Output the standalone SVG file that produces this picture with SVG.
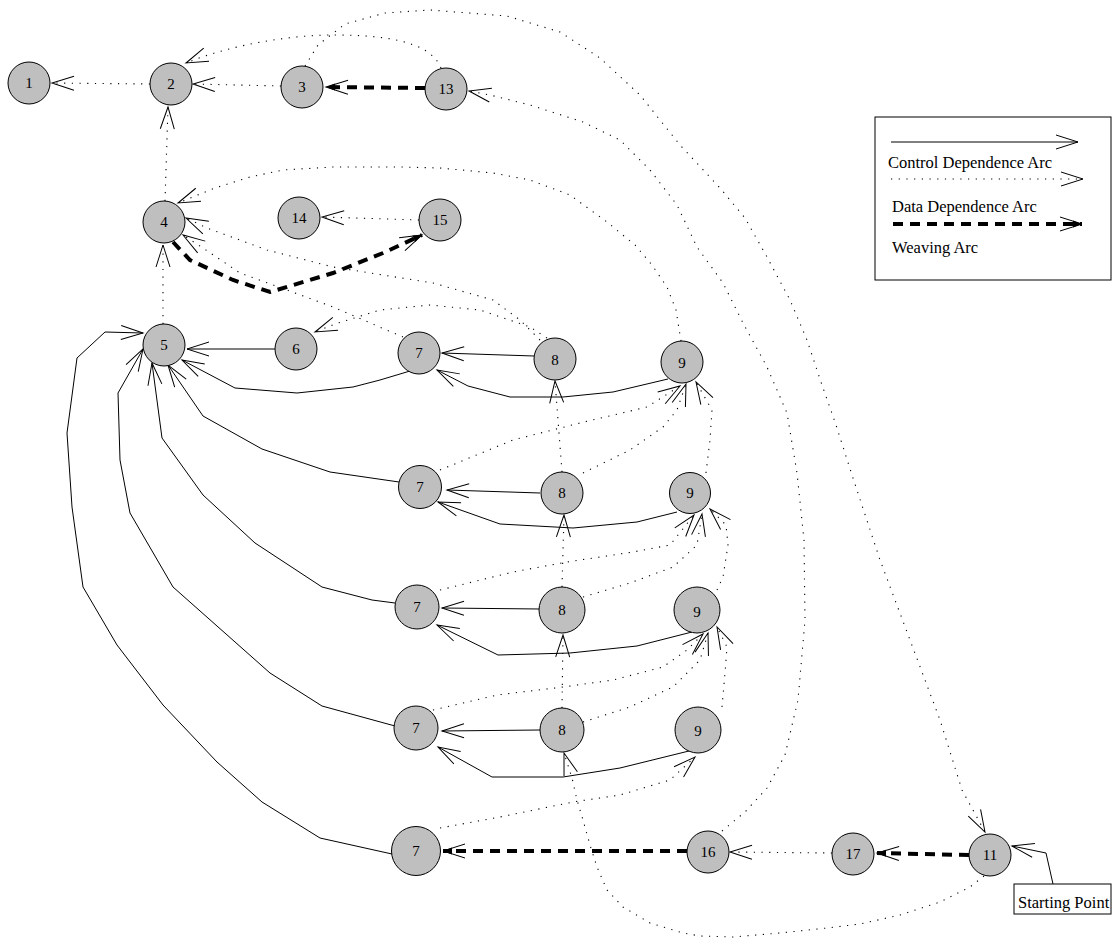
<svg xmlns="http://www.w3.org/2000/svg" width="1113" height="938" viewBox="0 0 1113 938">
<style>
.nd circle{fill:#bfbfbf;stroke:#000;stroke-width:1}
.nd text,.t{font-family:"Liberation Serif","Times New Roman",serif;fill:#000}
.nd text{font-size:15px;text-anchor:middle}
.t{font-size:16.5px}
.cd{fill:none;stroke:#000;stroke-width:1;marker-end:url(#a)}
.dd{fill:none;stroke:#000;stroke-width:1.1;stroke-dasharray:1.2 6.5;marker-end:url(#a)}
.wv{fill:none;stroke:#000;stroke-width:4;stroke-dasharray:10 7;marker-end:url(#w)}
</style>
<defs>
<marker id="a" markerUnits="userSpaceOnUse" markerWidth="30" markerHeight="20" viewBox="-25 -10 30 20" refX="0" refY="0" orient="auto" overflow="visible">
<path d="M-22,-7 L0,0 L-22,7" fill="none" stroke="#000" stroke-width="1"/>
</marker>
<marker id="w" markerUnits="userSpaceOnUse" markerWidth="30" markerHeight="20" viewBox="-25 -10 30 20" refX="0" refY="0" orient="auto" overflow="visible">
<path d="M-22,-7 L0,0 L-22,7" fill="none" stroke="#000" stroke-width="1"/>
<path d="M-9,-3.5 L0,0 L-9,3.5Z" fill="#000"/>
</marker>
</defs>
<rect width="1113" height="938" fill="#fff"/>

<g id="connectors">
<!-- data dependence (dotted) -->
<polyline class="dd" points="150,84 52,83"/>
<polyline class="dd" points="281,86 193,84"/>
<path class="dd" d="M441,68 C430,40 380,35 333,35 C290,35 230,45 186,63"/>
<polyline class="dd" points="305,66 318,45 345,24 385,13 430,10 507,16 560,32 600,58 640,95 680,145 720,188 745,218 767,257 790,300 807,340 822,385 836,425 852,475 880,560 910,640 940,720 962,790 985,832"/>
<polyline class="dd" points="722,831 745,812 767,788 785,755 798,700 805,620 804,540 797,473 787,413 767,367 743,323 723,283 697,247 677,205 650,170 620,140 583,122 530,105 490,95 469,91"/>
<polyline class="dd" points="681,341 676,310 667,287 652,265 635,245 607,222 570,195 530,180 493,173 440,168 400,167 333,167 283,170 250,177 215,188 178,203"/>
<polyline class="dd" points="540,340 520,320 493,300 433,283 333,267 267,250 207,228 186,218"/>
<polyline class="dd" points="403,337 333,307 287,290 240,273 203,248 183,235"/>
<polyline class="dd" points="547,338 530,327 480,310 430,305 380,310 335,324 315,332"/>
<polyline class="dd" points="163,324 163,245"/>
<polyline class="dd" points="165,201 168,107"/>
<polyline class="dd" points="419,220 322,217"/>
<polyline class="dd" points="562,472 555,381"/>
<polyline class="dd" points="562,587 564,515"/>
<polyline class="dd" points="562,708 563,635"/>
<polyline class="dd" points="984,876 970,887 940,902 900,915 860,924 827,928 780,933 733,937 700,936 683,933 650,923 623,907 607,890 597,867 590,845 583,820 577,800 572,778 564,753"/>
<polyline class="dd" points="440,470 513,440 580,423 647,407 680,386"/>
<polyline class="dd" points="583,473 630,450 663,427 677,410 686,384"/>
<polyline class="dd" points="706,473 710,440 712,410 696,382"/>
<polyline class="dd" points="440,590 513,572 567,562 633,552 670,545 694,515"/>
<polyline class="dd" points="583,597 630,583 673,567 697,545 702,514"/>
<polyline class="dd" points="717,590 723,577 728,545 726,525 710,509"/>
<polyline class="dd" points="433,710 497,695 563,687 613,680 663,667 687,650 703,634"/>
<polyline class="dd" points="583,722 630,707 673,687 700,660 708,633"/>
<polyline class="dd" points="722,707 725,673 727,647 717,627"/>
<polyline class="dd" points="440,828 500,817 573,802 620,795 670,780 695,757"/>
<polyline class="dd" points="832,853 730,852"/>
<!-- control dependence (solid) -->
<polyline class="cd" points="275,349 187,349"/>
<polyline class="cd" points="410,371 380,380 353,387 297,393 235,388 182,360"/>
<polyline class="cd" points="534,356 442,353"/>
<polyline class="cd" points="668,379 613,392 563,397 510,397 468,386 437,370"/>
<polyline class="cd" points="399,482 330,472 262,449 203,416 168,365"/>
<polyline class="cd" points="395,603 372,600 322,587 255,543 203,495 162,438 152,363"/>
<polyline class="cd" points="395,726 322,706 270,673 173,587 130,513 120,460 118,393 143,349"/>
<polyline class="cd" points="392,854 320,838 262,802 217,762 163,705 117,645 83,587 72,507 67,433 77,358 105,332 143,333"/>
<polyline class="cd" points="540,493 447,490"/>
<polyline class="cd" points="677,512 637,522 573,528 500,524 438,502"/>
<polyline class="cd" points="540,609 442,608"/>
<polyline class="cd" points="692,632 637,646 570,653 498,655 437,625"/>
<polyline class="cd" points="540,730 442,731"/>
<polyline class="cd" points="693,750 620,768 563,777 492,777 438,747"/>
<polyline class="cd" points="1053,884 1046,853 1012,846"/>
<!-- weaving -->
<polyline class="wv" points="425,88 326,87"/>
<polyline class="wv" points="173,242 190,260 233,280 270,292 333,273 383,253 422,235"/>
<polyline class="wv" points="687,851 443,851"/>
<polyline class="wv" points="969,855 877,853"/>
</g>

<g id="n1" class="nd"><circle cx="29" cy="83" r="21"/><text x="29" y="88">1</text></g>
<g id="n2" class="nd"><circle cx="171" cy="84" r="21"/><text x="171" y="89">2</text></g>
<g id="n3" class="nd"><circle cx="302" cy="87" r="21"/><text x="302" y="92">3</text></g>
<g id="n13" class="nd"><circle cx="446" cy="89" r="21"/><text x="446" y="94">13</text></g>
<g id="n4" class="nd"><circle cx="164" cy="222" r="21"/><text x="164" y="227">4</text></g>
<g id="n14" class="nd"><circle cx="299" cy="218" r="21"/><text x="299" y="223">14</text></g>
<g id="n15" class="nd"><circle cx="440" cy="220" r="21"/><text x="440" y="225">15</text></g>
<g id="n5" class="nd"><circle cx="164" cy="345" r="21"/><text x="164" y="350">5</text></g>
<g id="n6" class="nd"><circle cx="296" cy="349" r="21"/><text x="296" y="354">6</text></g>
<g id="n7a" class="nd"><circle cx="419" cy="353" r="21"/><text x="419" y="358">7</text></g>
<g id="n8a" class="nd"><circle cx="555" cy="359" r="21"/><text x="555" y="365">8</text></g>
<g id="n9a" class="nd"><circle cx="682" cy="362" r="21"/><text x="682" y="368">9</text></g>
<g id="n7b" class="nd"><circle cx="420" cy="487" r="21.5"/><text x="420" y="492">7</text></g>
<g id="n8b" class="nd"><circle cx="562" cy="493" r="21"/><text x="562" y="498">8</text></g>
<g id="n9b" class="nd"><circle cx="690" cy="493" r="20.5"/><text x="690" y="498">9</text></g>
<g id="n7c" class="nd"><circle cx="417" cy="607" r="22"/><text x="417" y="612">7</text></g>
<g id="n8c" class="nd"><circle cx="562" cy="610" r="23"/><text x="562" y="615">8</text></g>
<g id="n9c" class="nd"><circle cx="697" cy="610" r="23"/><text x="697" y="617">9</text></g>
<g id="n7d" class="nd"><circle cx="416" cy="728" r="22"/><text x="416" y="733">7</text></g>
<g id="n8d" class="nd"><circle cx="562" cy="730" r="22"/><text x="562" y="735">8</text></g>
<g id="n9d" class="nd"><circle cx="698" cy="730" r="23"/><text x="698" y="736">9</text></g>
<g id="n7e" class="nd"><circle cx="416" cy="851" r="24.5"/><text x="416" y="856">7</text></g>
<g id="n16" class="nd"><circle cx="708" cy="852" r="21"/><text x="708" y="857">16</text></g>
<g id="n17" class="nd"><circle cx="853" cy="854" r="21"/><text x="853" y="859">17</text></g>
<g id="n11" class="nd"><circle cx="990" cy="855" r="21"/><text x="990" y="860">11</text></g>

<g id="start">
<rect x="1014" y="884" width="97" height="30" fill="#fff" stroke="#000" stroke-width="1"/>
<text class="t" x="1018" y="908">Starting Point</text>
</g>

<g id="legend">
<rect x="875" y="117" width="236" height="163" fill="#fff" stroke="#000" stroke-width="1"/>
<line x1="891" y1="142" x2="1078" y2="142" stroke="#000" stroke-width="1" marker-end="url(#a)"/>
<text class="t" x="888" y="168">Control Dependence Arc</text>
<line class="dd" x1="891" y1="179" x2="1083" y2="179"/>
<text class="t" x="892" y="212">Data Dependence Arc</text>
<line class="wv" x1="893" y1="224" x2="1082" y2="224"/>
<text class="t" x="892" y="253">Weaving Arc</text>
</g>
</svg>
